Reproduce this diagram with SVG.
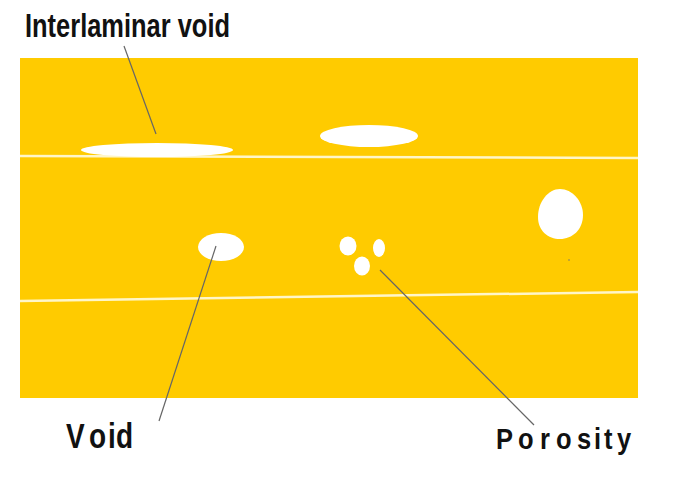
<svg xmlns="http://www.w3.org/2000/svg" width="678" height="483" viewBox="0 0 678 483">
<style>
.lbl{font-family:"Liberation Sans",Arial,sans-serif;font-weight:bold;fill:#111}
.void{fill:#fff}
.leader{stroke:#666;stroke-width:1.2;fill:none}
.ply{stroke:#fff6c8;stroke-width:2.5;fill:none}
</style>
<rect x="0" y="0" width="678" height="483" fill="#fff"/>
<g id="laminate">
<rect x="20" y="58" width="618" height="340" fill="#ffcb00"/>
<line class="ply" x1="20" y1="156" x2="638" y2="158"/>
<line class="ply" x1="20" y1="301" x2="638" y2="292"/>
</g>
<g id="interlaminar-void-1"><ellipse class="void" cx="157" cy="150" rx="76" ry="7"/></g>
<g id="interlaminar-void-2"><ellipse class="void" cx="369" cy="136" rx="49" ry="11"/></g>
<g id="blob-void"><path class="void" d="M560 189 C572 189 583 201 583 215 C583 230 572 239 560 239 C548 239 538 231 538 217 C538 202 548 189 560 189 Z"/><circle cx="569" cy="260" r="0.8" fill="#776"/></g>
<g id="void"><ellipse class="void" cx="221" cy="247" rx="23" ry="14"/></g>
<g id="porosity">
<ellipse class="void" cx="348" cy="246" rx="8.5" ry="9.5"/>
<ellipse class="void" cx="379" cy="248" rx="6" ry="9"/>
<ellipse class="void" cx="362" cy="266" rx="8" ry="9.5"/>
</g>
<g id="connectors">
<line class="leader" x1="124" y1="46" x2="156" y2="134"/>
<line class="leader" x1="216" y1="246" x2="159" y2="421"/>
<line class="leader" x1="380" y1="270" x2="534" y2="425"/>
</g>
<g id="labels">
<text class="lbl" x="25" y="37" font-size="33" textLength="205" lengthAdjust="spacingAndGlyphs">Interlaminar void</text>
<text class="lbl" transform="translate(0,448) scale(0.8,1)" y="0" x="82.5 111.3 135 145" font-size="35">Void</text>
<text class="lbl" transform="translate(0,449) scale(0.85,1)" y="0" x="583.5 609.4 635.3 654.1 678.8 698.8 710.6 725.9" font-size="30">Porosity</text>
</g>
</svg>
